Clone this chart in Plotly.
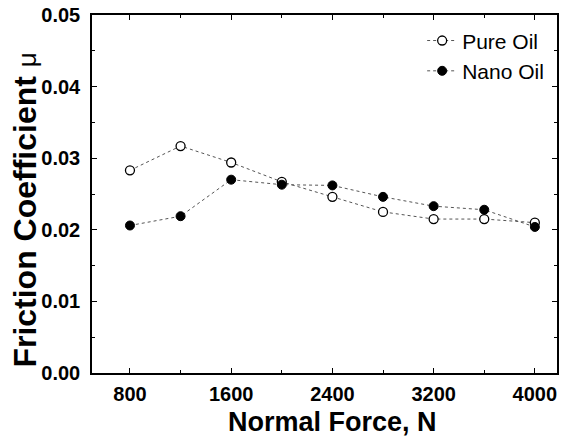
import plotly.graph_objects as go

normal_force = [800, 1200, 1600, 2000, 2400, 2800, 3200, 3600, 4000]
pure_oil = [0.0283, 0.0317, 0.0294, 0.0267, 0.0246, 0.0225, 0.0215, 0.0215, 0.0210]
nano_oil = [0.0206, 0.0219, 0.0270, 0.0263, 0.0262, 0.0246, 0.0233, 0.0228, 0.0204]
x_ticks = [800, 1600, 2400, 3200, 4000]
y_ticks = [0.00, 0.01, 0.02, 0.03, 0.04, 0.05]

FONT = "Liberation Sans, Arial, sans-serif"

fig = go.Figure()
fig.add_trace(go.Scatter(
    x=normal_force, y=pure_oil, name="Pure Oil", mode="lines+markers",
    line=dict(color="#555555", width=1, dash="dot"),
    marker=dict(symbol="circle", size=9, color="white", line=dict(color="black", width=1.3)),
))
fig.add_trace(go.Scatter(
    x=normal_force, y=nano_oil, name="Nano Oil", mode="lines+markers",
    line=dict(color="#555555", width=1, dash="dot"),
    marker=dict(symbol="circle", size=9, color="black", line=dict(color="black", width=1)),
))

axis_common = dict(
    showline=True, linecolor="black", linewidth=1.5, mirror="allticks",
    ticks="inside", ticklen=5, tickwidth=1.2, tickcolor="black",
    showgrid=False, zeroline=False, automargin=False,
    ticklabeloverflow="allow",
    tickfont=dict(family=FONT, size=20, color="black", weight="bold"),
)

fig.update_xaxes(
    range=[500, 4175], tickvals=x_ticks, ticktext=[str(v) for v in x_ticks],
    minor=dict(dtick=400, tick0=0, ticks="inside", ticklen=3, tickcolor="black", tickwidth=1),
    ticklabelstandoff=2,
    **axis_common,
)
fig.update_yaxes(
    range=[0, 0.05], tickvals=y_ticks, ticktext=[f"{v:.2f}" for v in y_ticks],
    minor=dict(dtick=0.005, tick0=0, ticks="inside", ticklen=3, tickcolor="black", tickwidth=1),
    ticklabelstandoff=6,
    **axis_common,
)

# axis titles
fig.add_annotation(
    text="<b>Normal Force, N</b>",
    xref="paper", yref="paper", x=0.518, y=-0.136, xanchor="center", yanchor="middle",
    showarrow=False, font=dict(family=FONT, size=27, color="black"),
)
fig.add_annotation(
    text="<b>Friction Coefficient</b> <span style=\"font-size:26px;font-weight:normal\">μ</span>",
    xref="paper", yref="paper", x=-0.143, y=0.455, xanchor="center", yanchor="middle",
    textangle=-90, showarrow=False,
    font=dict(family=FONT, size=32, color="black"),
)

fig.update_layout(
    width=562, height=438,
    margin=dict(l=92, r=5, t=15, b=65),
    paper_bgcolor="white", plot_bgcolor="white",
    showlegend=True,
    legend=dict(x=0.71, y=0.985, xanchor="left", yanchor="top",
                bgcolor="rgba(0,0,0,0)", font=dict(family=FONT, size=21, color="black"),
                itemwidth=30, tracegroupgap=0),
)

# remove the default 8px page margin so the figure fills the window exactly
fig.write_html("out.html", config={"displayModeBar": False},
               post_script="document.body.style.margin='0px';")
